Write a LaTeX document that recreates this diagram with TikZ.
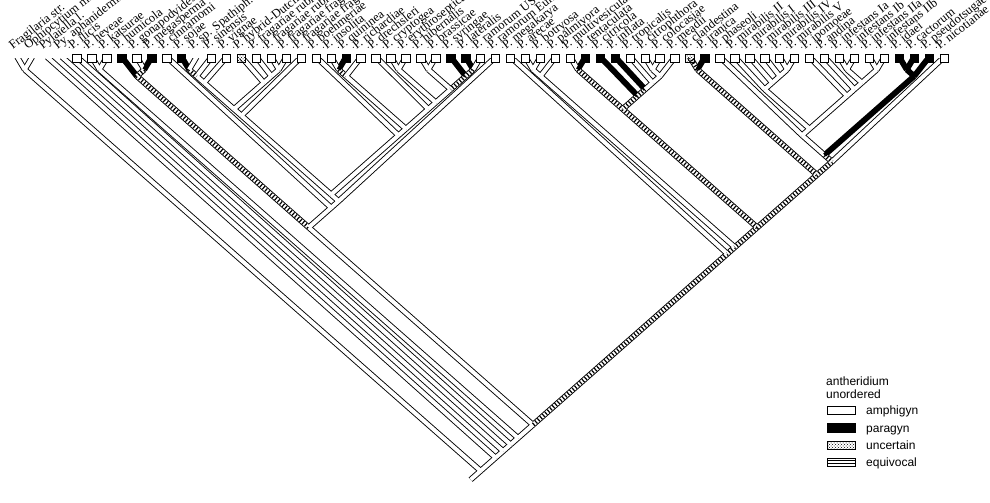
\documentclass[tikz,border=0pt]{standalone}
\usepackage{fontspec}
\setmainfont{Liberation Serif}
\newfontfamily\legfont{Liberation Sans}
\usetikzlibrary{patterns,calc}
\begin{document}
\begin{tikzpicture}[x=1pt,y=-1pt,
  outl/.style={line width=5.8pt, black},
  fW/.style={line width=4.0pt, white},
  fB/.style={line width=4.0pt, black},
  fH/.style={line width=4.0pt, black, dash pattern=on 1.2pt off 2.1pt},
  boxW/.style={draw=black, line width=0.8pt, fill=white},
  boxB/.style={draw=black, line width=0.8pt, fill=black},
  boxU/.style={draw=black, line width=0.8pt, pattern=crosshatch dots},
  lab/.style={anchor=base west, rotate=38, inner sep=0pt, font=\fontsize{12.5}{14}\selectfont},
  legt/.style={anchor=base west, inner sep=0pt, font=\legfont\fontsize{12}{14}\selectfont},
]
\useasboundingbox (0,0) rectangle (990,503);
\fill[white] (0,0) rectangle (990,503);
\clip (0,0) rectangle (990,503);

% tips
\foreach \i in {0,...,62} \coordinate (t\i) at ({17.2+14.95*\i},57);
% internal nodes: x = mean of extreme tips, y from span
\foreach \a/\b in {0/62,0/1,2/62,3/62,4/62,5/62,5/6,7/62,7/32,7/9,8/9,10/32,11/32,11/31,11/19,11/18,
  11/14,11/13,11/12,15/18,16/18,17/18,20/31,21/31,21/23,21/22,24/31,25/31,25/26,27/31,27/28,29/31,30/31,
  33/62,34/62,34/36,34/35,37/62,37/44,37/38,39/44,40/44,41/44,42/44,42/43,45/62,45/46,47/62,47/61,47/58,
  48/58,48/52,49/52,50/52,51/52,53/58,54/58,55/58,55/56,57/58,59/61,59/60}
  \coordinate (n\a-\b) at ({17.2+14.95*(\a+\b)/2},{63+0.88*14.95*(\b-\a)/2});
% foot of the root stem
\coordinate (rootfoot) at ($(n0-62)+(-10,8.8)$);

\def\treebranches{%
\brch{n0-62}{rootfoot}{W}%
\brch{n0-1}{n0-62}{W}\brch{t0}{n0-1}{W}\brch{t1}{n0-1}{W}%
\brch{n2-62}{n0-62}{W}\brch{t2}{n2-62}{W}%
\brch{n3-62}{n2-62}{W}\brch{t3}{n3-62}{W}%
\brch{n4-62}{n3-62}{W}\brch{t4}{n4-62}{W}%
\brch{n5-62}{n4-62}{W}\brch{n5-6}{n5-62}{W}\brch{t5}{n5-6}{W}\brch{t6}{n5-6}{W}%
\brch{n7-62}{n5-62}{W}\brch{n7-32}{n7-62}{W}%
\brch{n7-9}{n7-32}{H}\brch{t7}{n7-9}{B}\brch{n8-9}{n7-9}{H}\brch{t8}{n8-9}{W}\brch{t9}{n8-9}{B}%
\brch{n10-32}{n7-32}{W}\brch{t10}{n10-32}{W}%
\brch{n11-32}{n10-32}{W}\brch{t32}{n11-32}{W}%
\brch{n11-31}{n11-32}{W}%
\brch{n11-19}{n11-31}{W}\brch{t19}{n11-19}{W}%
\brch{n11-18}{n11-19}{W}%
\brch{n11-14}{n11-18}{W}\brch{t14}{n11-14}{W}%
\brch{n11-13}{n11-14}{W}\brch{t13}{n11-13}{W}%
\brch{n11-12}{n11-13}{H}\brch{t11}{n11-12}{B}\brch{t12}{n11-12}{W}%
\brch{n15-18}{n11-18}{W}\brch{t15}{n15-18}{W}\brch{n16-18}{n15-18}{W}\brch{t16}{n16-18}{W}%
\brch{n17-18}{n16-18}{W}\brch{t17}{n17-18}{W}\brch{t18}{n17-18}{W}%
\brch{n20-31}{n11-31}{W}\brch{t20}{n20-31}{W}%
\brch{n21-31}{n20-31}{W}%
\brch{n21-23}{n21-31}{W}\brch{n21-22}{n21-23}{H}\brch{t21}{n21-22}{W}\brch{t22}{n21-22}{B}\brch{t23}{n21-23}{W}%
\brch{n24-31}{n21-31}{W}\brch{t24}{n24-31}{W}%
\brch{n25-31}{n24-31}{W}\brch{n25-26}{n25-31}{W}\brch{t25}{n25-26}{W}\brch{t26}{n25-26}{W}%
\brch{n27-31}{n25-31}{W}\brch{n27-28}{n27-31}{W}\brch{t27}{n27-28}{W}\brch{t28}{n27-28}{W}%
\brch{n29-31}{n27-31}{H}\brch{t29}{n29-31}{B}\brch{n30-31}{n29-31}{H}\brch{t30}{n30-31}{B}\brch{t31}{n30-31}{W}%
\brch{n33-62}{n7-62}{H}\brch{t33}{n33-62}{W}\brch{n34-62}{n33-62}{H}%
\brch{n34-36}{n34-62}{W}\brch{n34-35}{n34-36}{W}\brch{t34}{n34-35}{W}\brch{t35}{n34-35}{W}\brch{t36}{n34-36}{W}%
\brch{n37-62}{n34-62}{H}\brch{n37-44}{n37-62}{H}%
\brch{n37-38}{n37-44}{H}\brch{t37}{n37-38}{W}\brch{t38}{n37-38}{B}%
\brch{n39-44}{n37-44}{H}\brch{t39}{n39-44}{B}\brch{n40-44}{n39-44}{H}\brch{t40}{n40-44}{B}%
\brch{n41-44}{n40-44}{W}\brch{t41}{n41-44}{W}\brch{n42-44}{n41-44}{W}%
\brch{n42-43}{n42-44}{W}\brch{t42}{n42-43}{W}\brch{t43}{n42-43}{W}\brch{t44}{n42-44}{W}%
\brch{n45-62}{n37-62}{H}\brch{n45-46}{n45-62}{H}\brch{t45}{n45-46}{H}\brch{t46}{n45-46}{B}%
\brch{n47-62}{n45-62}{H}\brch{t62}{n47-62}{W}\brch{n47-61}{n47-62}{H}%
\brch{n47-58}{n47-61}{W}\brch{t47}{n47-58}{W}\brch{n48-58}{n47-58}{W}%
\brch{n48-52}{n48-58}{W}\brch{t48}{n48-52}{W}\brch{n49-52}{n48-52}{W}\brch{t49}{n49-52}{W}%
\brch{n50-52}{n49-52}{W}\brch{t50}{n50-52}{W}\brch{n51-52}{n50-52}{W}\brch{t51}{n51-52}{W}\brch{t52}{n51-52}{W}%
\brch{n53-58}{n48-58}{W}\brch{t53}{n53-58}{W}\brch{n54-58}{n53-58}{W}\brch{t54}{n54-58}{W}%
\brch{n55-58}{n54-58}{W}\brch{n55-56}{n55-58}{W}\brch{t55}{n55-56}{W}\brch{t56}{n55-56}{W}%
\brch{n57-58}{n55-58}{W}\brch{t57}{n57-58}{W}\brch{t58}{n57-58}{W}%
\brch{n59-61}{n47-61}{B}\brch{n59-60}{n59-61}{B}\brch{t59}{n59-60}{B}\brch{t60}{n59-60}{B}\brch{t61}{n59-61}{B}%
}
\def\brfillW#1#2{\draw[fW] (#1)--(#2);}
\def\brfillB#1#2{\draw[fB] (#1)--(#2);}
\def\brfillH#1#2{\draw[fW] (#1)--(#2); \draw[fH] (#1)--(#2);}

\begin{scope}
\clip (0,59) rectangle (990,503);
\def\brch#1#2#3{\draw[outl] (#1)--(#2);}
\treebranches
\def\brch#1#2#3{\csname brfill#3\endcsname{#1}{#2}}
\treebranches
\end{scope}

% character boxes
\foreach \i in {4,5,6,8,10,13,14,16,17,18,19,20,21,23,24,25,26,27,28,31,32,33,34,35,36,37,41,42,43,44,47,48,49,50,51,52,53,54,55,56,57,58,62}
  \draw[boxW] ({17.2+14.95*\i-4.2},54.5) rectangle ++(8.4,7.8);
\foreach \i in {7,9,11,22,29,30,38,39,40,46,59,60,61}
  \draw[boxB] ({17.2+14.95*\i-4.2},54.5) rectangle ++(8.4,7.8);
\foreach \i in {15,45}
  \draw[boxU] ({17.2+14.95*\i-4.2},54.5) rectangle ++(8.4,7.8);

% dots between names
\foreach \i in {3,...,61} \fill ({17.2+14.95*\i+7.2},47.3) circle (0.6);

% taxon names
\foreach \i/\t in {0/Fragilaria str.,1/Ophiocytium majus,2/Pylaiella l.,3/Py. aphanidermatum,
  4/P. ilicis,5/P. heveae,6/P. katsurae,7/P. humicola,8/P. gonapodyides,9/P. megasperma,
  10/P. cinnamomi,11/P. sojae,12/P. sp. Spathiph.,13/P. sinensis,14/P. vignae,15/P. hybrid-Dutch,
  16/P. fragariae rubi,17/P. fragariae rubi,18/P. fragariae frag.,19/P. fragariae frag.,
  20/P. boehmeriae,21/P. insolita,22/P. quininea,23/P. richardiae,24/P. drechsleri,
  25/P. cryptogea,26/P. erythroseptica,27/P. hibernalis,28/P. brassicae,29/P. syringae,
  30/P. lateralis,31/P. ramorum US,32/P. ramorum Eur.,33/P. megakarya,34/P. arecae,
  35/P. botryosa,36/P. palmivora,37/P. multivesiculata,38/P. tentaculata,39/P. citricola,
  40/P. inflata,41/P. tropicalis,42/P. citrophthora,43/P. colocasiae,44/P. meadii,
  45/P. clandestina,46/P. iranica,47/P. phaseoli,48/P. mirabilis II,49/P. mirabilis I,
  50/P. mirabilis III,51/P. mirabilis IV,52/P. mirabilis V,53/P. ipomoeae,54/P. andina,
  55/P. infestans Ia,56/P. infestans Ib,57/P. infestans IIa,58/P. infestans IIb,
  59/P. idaei,60/P. cactorum,61/P. pseudotsugae,62/P. nicotianae}
  \node[lab] (lab\i) at ({17.2+14.95*\i-4.5},50) {\t};

% legend
\node[legt] (lgA) at (826,385) {antheridium};
\node[legt] (lgB) at (826,398) {unordered};
\draw[boxW] (827,406) rectangle (855,414);
\draw[boxB] (827,423) rectangle (855,432);
\draw[boxU] (827,441) rectangle (855,449);
\draw[boxW] (827,458) rectangle (855,466);
\draw[line width=0.7pt] (827,460.7) -- (855,460.7) (827,463.3) -- (855,463.3);
\node[legt] (lg1) at (866,414) {amphigyn};
\node[legt] (lg2) at (866,432) {paragyn};
\node[legt] (lg3) at (866,449) {uncertain};
\node[legt] (lg4) at (866,466) {equivocal};
\end{tikzpicture}
\end{document}
